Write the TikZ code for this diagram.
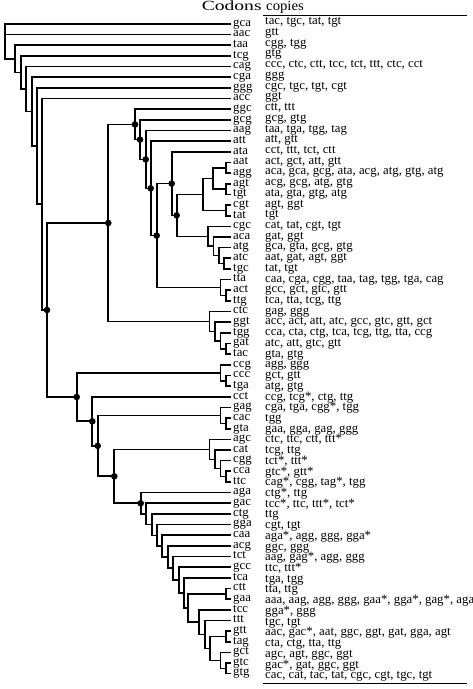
\documentclass[tikz,border=0pt]{standalone}
\usepackage{fontspec}
\setmainfont{Liberation Serif}
\usetikzlibrary{calc}
% name, x of the vertical, first child, last child
\newcommand\tjoin[4]{%
  \coordinate (m#1) at ($(#3)!0.5!(#4)$);
  \coordinate (x#1) at (#2,0);
  \coordinate (#1) at (m#1 -| x#1);
  \draw[tree] (#1) |- (#3);
  \draw[tree] (#1) |- (#4);}
\begin{document}
\begin{tikzpicture}[x=1pt,y=-1pt,
  tree/.style={line width=1.65pt, line join=miter},
  leaf/.style={anchor=west, inner xsep=2pt, inner ysep=0pt, text height=1ex, text depth=0pt, font=\fontsize{12.8}{14}\selectfont},
  copytext/.style={anchor=west, inner sep=0pt, text height=1ex, text depth=0pt, font=\fontsize{12.8}{14}\selectfont},
  head/.style={anchor=base, inner sep=0pt, font=\fontsize{14}{16}\selectfont},
  rulel/.style={line width=1pt},
  dotfill/.style={fill=black}]
\useasboundingbox (0,0) rectangle (473,689);
% header
\node[head] (hcod) at (231.7,10.5) {\scalebox{1.4}[1]{Codons}};
\node[head] (hcop) at (285,10.5) {\scalebox{1.05}[1]{copies}};
\coordinate (r1) at (263.3,15.5);
\coordinate (r2) at (467,15.5);
\coordinate (r3) at (263.3,683);
\coordinate (r4) at (467,683);
\draw[rulel] (r1) -- (r2);
\draw[rulel] (r3) -- (r4);
% leaves
\foreach \c [count=\i] in {gca,aac,taa,tcg,cag,cga,ggg,acc,ggc,gcg,aag,att,ata,aat,agg,agt,tgt,cgt,tat,cgc,aca,atg,atc,tgc,tta,act,ttg,ctc,ggt,tgg,gat,tac,ccg,ccc,tga,cct,gag,cac,gta,agc,cat,cgg,cca,ttc,aga,gac,ctg,gga,caa,acg,tct,gcc,tca,ctt,gaa,tcc,ttt,gtt,tag,gct,gtc,gtg}
  \node[leaf] (\c) at (231,{24+(\i-1)*10.65}) {\c};
% copies
\foreach \t [count=\i] in {{tac, tgc, tat, tgt},{gtt},{cgg, tgg},{gtg},{ccc, ctc, ctt, tcc, tct, ttt, ctc, cct},{ggg},{cgc, tgc, tgt, cgt},{ggt},{ctt, ttt},{gcg, gtg},{taa, tga, tgg, tag},{att, gtt},{cct, ttt, tct, ctt},{act, gct, att, gtt},{aca, gca, gcg, ata, acg, atg, gtg, atg},{acg, gcg, atg, gtg},{ata, gta, gtg, atg},{agt, ggt},{tgt},{cat, tat, cgt, tgt},{gat, ggt},{gca, gta, gcg, gtg},{aat, gat, agt, ggt},{tat, tgt},{caa, cga, cgg, taa, tag, tgg, tga, cag},{gcc, gct, gtc, gtt},{tca, tta, tcg, ttg},{gag, ggg},{acc, act, att, atc, gcc, gtc, gtt, gct},{cca, cta, ctg, tca, tcg, ttg, tta, ccg},{atc, att, gtc, gtt},{gta, gtg},{agg, ggg},{gct, gtt},{atg, gtg},{ccg, tcg*, ctg, ttg},{cga, tga, cgg*, tgg},{tgg},{gaa, gga, gag, ggg},{ctc, ttc, ctt, ttt*},{tcg, ttg},{tct*, ttt*},{gtc*, gtt*},{cag*, cgg, tag*, tgg},{ctg*, ttg},{tcc*, ttc, ttt*, tct*},{ttg},{cgt, tgt},{aga*, agg, ggg, gga*},{ggc, ggg},{aag, gag*, agg, ggg},{ttc, ttt*},{tga, tgg},{tta, ttg},{aaa, aag, agg, ggg, gaa*, gga*, gag*, aga},{gga*, ggg},{tgc, tgt},{aac, gac*, aat, ggc, ggt, gat, gga, agt},{cta, ctg, tta, ttg},{agc, agt, ggc, ggt},{gac*, gat, ggc, ggt},{cac, cat, tac, tat, cgc, cgt, tgc, tgt}}
  \node[copytext] (cp\i) at (265,{22.5+(\i-1)*10.72}) {\t};
% tree, bottom-up
\tjoin{nSa}{226}{aat.west}{agg.west}
\tjoin{nSb}{226}{agt.west}{tgt.west}
\tjoin{nSc}{213.3}{nSa}{nSb}
\tjoin{nSd}{226}{cgt.west}{tat.west}
\tjoin{nSe}{203.3}{nSc}{nSd}
\tjoin{nSf}{224}{atc.west}{tgc.west}
\tjoin{nSg}{219}{atg.west}{nSf}
\tjoin{nSh}{213.5}{aca.west}{nSg}
\tjoin{nSi}{208.3}{cgc.west}{nSh}
\tjoin{nSj}{176.7}{nSe}{nSi}
\tjoin{nSk}{171.7}{ata.west}{nSj}
\tjoin{nTb}{226}{act.west}{ttg.west}
\tjoin{nTa}{220.5}{tta.west}{nTb}
\tjoin{nNb}{156.7}{nSk}{nTa}
\tjoin{natt}{150.7}{att.west}{nNb}
\tjoin{naag}{145.7}{aag.west}{natt}
\tjoin{ngcg}{140}{gcg.west}{naag}
\tjoin{nB}{135}{ggc.west}{ngcg}
\tjoin{nCd}{226}{gat.west}{tac.west}
\tjoin{nCc}{220.5}{tgg.west}{nCd}
\tjoin{nCb}{215}{ggt.west}{nCc}
\tjoin{nC}{209.5}{ctc.west}{nCb}
\tjoin{nA}{108.3}{nB}{nC}
\tjoin{nDb}{226}{ccc.west}{tga.west}
\tjoin{nDa}{220.5}{ccg.west}{nDb}
\tjoin{nFb}{226}{cac.west}{gta.west}
\tjoin{nFa}{220.5}{gag.west}{nFb}
\tjoin{nGd}{226}{cca.west}{ttc.west}
\tjoin{nGc}{220.5}{cgg.west}{nGd}
\tjoin{nGb}{215}{cat.west}{nGc}
\tjoin{nGa}{209.5}{agc.west}{nGb}
\tjoin{nKd}{226}{gtc.west}{gtg.west}
\tjoin{nKc}{220.5}{gct.west}{nKd}
\tjoin{nKb}{226}{gtt.west}{tag.west}
\tjoin{nHl}{210}{nKb}{nKc}
\tjoin{nHk}{205}{ttt.west}{nHl}
\tjoin{nHj}{199}{tcc.west}{nHk}
\tjoin{nKa}{226}{ctt.west}{gaa.west}
\tjoin{nHi}{188.3}{nKa}{nHj}
\tjoin{nHh}{184}{tca.west}{nHi}
\tjoin{nHg}{179.3}{gcc.west}{nHh}
\tjoin{nHf}{173.3}{tct.west}{nHg}
\tjoin{nHe}{167.7}{acg.west}{nHf}
\tjoin{nHd}{161.7}{caa.west}{nHe}
\tjoin{nHc}{156.7}{gga.west}{nHd}
\tjoin{nHb}{151.7}{ctg.west}{nHc}
\tjoin{nHa}{146}{gac.west}{nHb}
\tjoin{nH}{140.7}{aga.west}{nHa}
\tjoin{nG}{114.3}{nGa}{nH}
\tjoin{nF}{97.7}{nFa}{nG}
\tjoin{nE}{92.3}{cct.west}{nF}
\tjoin{nD}{76.7}{nDa}{nE}
\tjoin{nP}{47}{nA}{nD}
\tjoin{nacc}{41.7}{acc.west}{nP}
\tjoin{nggg}{37}{ggg.west}{nacc}
\tjoin{ncga}{31.7}{cga.west}{nggg}
\tjoin{ncag}{26}{cag.west}{ncga}
\tjoin{ntcg}{20.7}{tcg.west}{ncag}
\tjoin{ntaa}{15}{taa.west}{ntcg}
\tjoin{nR}{5}{gca.west}{ntaa}
\draw[tree] (nR) |- (aac.west);
% dots
\foreach \d in {nB,ngcg,naag,natt,nNb,nSk,nSj,nA,nP,nD,nE,nF,nG,nH}
  \fill[dotfill] (\d) circle[radius=3.3pt];
\end{tikzpicture}
\end{document}
